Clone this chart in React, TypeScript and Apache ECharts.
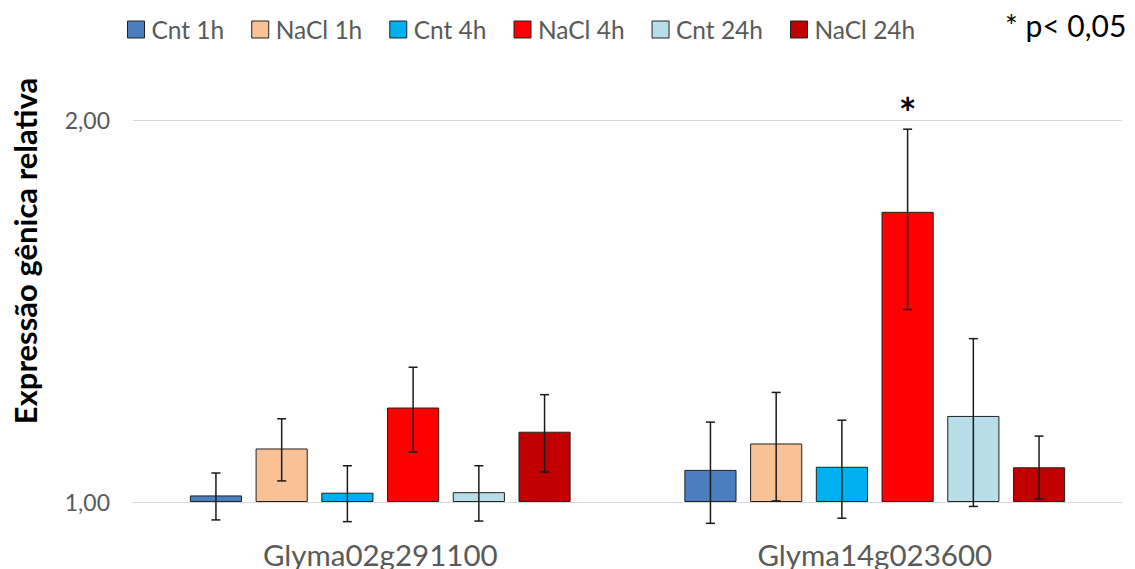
import React, { useEffect, useRef } from "react";
import * as echarts from "echarts";

const genes = ["Glyma02g291100", "Glyma14g023600"];
const seriesNames = ["Cnt 1h", "NaCl 1h", "Cnt 4h", "NaCl 4h", "Cnt 24h", "NaCl 24h"];
const seriesColors = ["#4a7ebf", "#f8c196", "#00b0f0", "#ff0000", "#b7dde8", "#c00000"];

// mean relative expression per gene
const cnt1h = [1.012, 1.060];
const nacl1h = [1.102, 1.112];
const cnt4h = [1.017, 1.066];
const nacl4h = [1.187, 1.693];
const cnt24h = [1.018, 1.169];
const nacl24h = [1.136, 1.065];

// error bar bounds (low / high) per gene
const cnt1hLow = [0.968, 0.962];
const cnt1hHigh = [1.054, 1.156];
const nacl1hLow = [1.039, 1.002];
const nacl1hHigh = [1.163, 1.220];
const cnt4hLow = [0.965, 0.971];
const cnt4hHigh = [1.068, 1.160];
const nacl4hLow = [1.095, 1.418];
const nacl4hHigh = [1.277, 1.967];
const cnt24hLow = [0.966, 0.992];
const cnt24hHigh = [1.068, 1.345];
const nacl24hLow = [1.056, 1.006];
const nacl24hHigh = [1.215, 1.127];

// significant (p < 0.05): [geneIndex, seriesIndex]
const significant = [[1, 3]];

const yTicks = [1, 2];

const FONT = "Lato, 'Open Sans', sans-serif";
const BAR_CAT_GAP = 0.23;
const BAR_GAP = 0.26;

export default function App() {
  const ref = useRef<HTMLDivElement>(null);
  useEffect(() => {
    document.body.style.margin = "0";
    if (!ref.current) return;
    const chart = echarts.init(ref.current, null, { renderer: "svg" });
    const means = [cnt1h, nacl1h, cnt4h, nacl4h, cnt24h, nacl24h];
    const lows = [cnt1hLow, nacl1hLow, cnt4hLow, nacl4hLow, cnt24hLow, nacl24hLow];
    const highs = [cnt1hHigh, nacl1hHigh, cnt4hHigh, nacl4hHigh, cnt24hHigh, nacl24hHigh];
    const errData: number[][] = [];
    for (let s = 0; s < seriesNames.length; s++) {
      for (let g = 0; g < genes.length; g++) {
        const sig = significant.some((p) => p[0] === g && p[1] === s) ? 1 : 0;
        errData.push([g, s, lows[s][g], highs[s][g], sig]);
      }
    }
    const n = seriesNames.length;
    const barSeries = seriesNames.map((name, i) => ({
      name,
      type: "bar",
      data: means[i],
      barGap: BAR_GAP * 100 + "%",
      barCategoryGap: BAR_CAT_GAP * 100 + "%",
      itemStyle: { color: seriesColors[i], borderColor: "#222", borderWidth: 1 },
    }));
    chart.setOption({
      animation: false,
      grid: { left: 133, right: 13, top: 120, bottom: 67 },
      legend: {
        left: 122,
        top: 12,
        icon: "rect",
        itemWidth: 17,
        itemHeight: 17,
        itemGap: 27,
        data: seriesNames,
        textStyle: { fontSize: 24.5, color: "#595959", fontFamily: FONT, padding: [0, 0, 0, 2] },
        itemStyle: { borderColor: "#222", borderWidth: 1 },
      },
      xAxis: {
        type: "category",
        data: genes,
        axisTick: { show: false },
        axisLine: { lineStyle: { color: "#d9d9d9", width: 1 } },
        axisLabel: { fontSize: 29.5, color: "#595959", fontFamily: FONT, margin: 37 },
      },
      yAxis: {
        type: "log",
        logBase: 2,
        min: yTicks[0],
        max: yTicks[yTicks.length - 1],
        axisLine: { show: false },
        axisTick: { show: false },
        splitLine: { lineStyle: { color: "#d9d9d9", width: 1 } },
        axisLabel: {
          fontSize: 23,
          color: "#595959",
          fontFamily: FONT,
          margin: 23,
          formatter: (v: number) => v.toFixed(2).replace(".", ","),
        },
      },
      graphic: [
        {
          type: "text",
          x: 25,
          y: 251,
          rotation: Math.PI / 2,
          style: {
            text: "Expressão gênica relativa",
            fontSize: 31,
            fontWeight: "bold",
            fill: "#000",
            fontFamily: FONT,
            textAlign: "center",
            textVerticalAlign: "middle",
          },
        },
        {
          type: "text",
          x: 1005,
          y: 25,
          style: {
            text: "* p< 0,05",
            fontSize: 30,
            fill: "#000",
            fontFamily: FONT,
            textAlign: "left",
            textVerticalAlign: "middle",
          },
        },
      ],
      series: [
        ...barSeries,
        {
          type: "custom",
          name: "err",
          data: errData,
          encode: { x: 0, y: [2, 3] },
          clip: false,
          z: 10,
          renderItem: (params: any, api: any) => {
            const g = api.value(0);
            const s = api.value(1);
            const lo = api.value(2);
            const hi = api.value(3);
            const sig = api.value(4);
            const center = api.coord([g, 1]);
            const band = api.size([1, 1])[0];
            const total = band * (1 - BAR_CAT_GAP);
            const bw = total / (n + (n - 1) * BAR_GAP);
            const x = center[0] - total / 2 + s * bw * (1 + BAR_GAP) + bw / 2;
            const yLo = api.coord([g, lo])[1];
            const yHi = api.coord([g, hi])[1];
            const cap = 4.5;
            const st = { stroke: "#1a1a1a", lineWidth: 1.5 };
            const children: any[] = [
              { type: "line", shape: { x1: x, y1: yLo, x2: x, y2: yHi }, style: st },
              { type: "line", shape: { x1: x - cap, y1: yHi, x2: x + cap, y2: yHi }, style: st },
              { type: "line", shape: { x1: x - cap, y1: yLo, x2: x + cap, y2: yLo }, style: st },
            ];
            if (sig) {
              children.push({
                type: "text",
                x: x,
                y: yHi - 16,
                style: {
                  text: "*",
                  fontSize: 42,
                  fontWeight: "bold",
                  fill: "#000",
                  fontFamily: FONT,
                  textAlign: "center",
                  textVerticalAlign: "middle",
                },
              });
            }
            return { type: "group", children };
          },
        },
      ],
    });
    return () => chart.dispose();
  }, []);
  return <div ref={ref} style={{ width: 1135, height: 569 }} />;
}
